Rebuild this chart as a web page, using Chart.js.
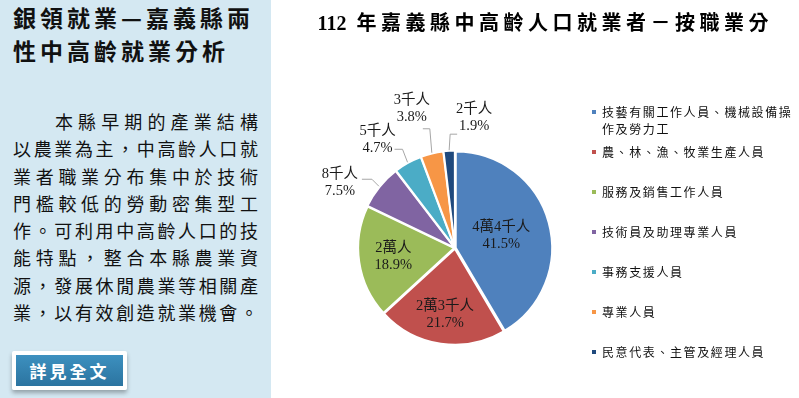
<!DOCTYPE html>
<html><head><meta charset="utf-8">
<script src="https://cdn.jsdelivr.net/npm/chart.js@4/dist/chart.umd.min.js"></script>
<style>
html,body{margin:0;padding:0;width:799px;height:398px;overflow:hidden;background:#fff;}
#panel{position:absolute;left:0;top:0;width:271px;height:398px;background:#d4e8f2;}
#ptitle{position:absolute;left:13px;top:1px;font:bold 23px "Noto Sans CJK TC";letter-spacing:4px;line-height:33px;color:#111;white-space:nowrap;}
#ptext{position:absolute;left:13px;top:108px;width:245px;font:18px "Noto Sans CJK TC";line-height:27.3px;color:#111;}
#ptext div{text-align:justify;text-align-last:justify;white-space:nowrap;}
#ptext div.first{padding-left:42px;}
#btn{position:absolute;left:12px;top:351px;width:107px;height:31px;border:4px solid #fff;background:linear-gradient(#3d90bf,#2b74a0);color:#fff;font:bold 17px "Noto Sans CJK TC";letter-spacing:3px;text-align:center;line-height:31px;box-shadow:0 3px 4px rgba(0,0,0,0.3);border-radius:2px;}
#wrap{position:absolute;left:271px;top:0;width:528px;height:398px;}
</style></head>
<body>
<div id="panel">
  <div id="ptitle">銀領就業—嘉義縣兩<br>性中高齡就業分析</div>
  <div id="ptext">
    <div class="first">本縣早期的產業結構</div>
    <div>以農業為主，中高齡人口就</div>
    <div>業者職業分布集中於技術</div>
    <div>門檻較低的勞動密集型工</div>
    <div>作。可利用中高齡人口的技</div>
    <div>能特點，整合本縣農業資</div>
    <div>源，發展休閒農業等相關產</div>
    <div>業，以有效創造就業機會。</div>
  </div>
  <div id="btn">詳見全文</div>
</div>
<div id="wrap"><canvas id="c" width="528" height="398"></canvas></div>
<script>
const titleYear = "112";
const titleText = "年嘉義縣中高齡人口就業者－按職業分";
const categories = ["技藝有關工作人員、機械設備操作及勞力工","農、林、漁、牧業生產人員","服務及銷售工作人員","技術員及助理專業人員","事務支援人員","專業人員","民意代表、主管及經理人員"];
const shares = [41.5, 21.7, 18.9, 7.5, 4.7, 3.8, 1.9];
const counts = ["4萬4千人","2萬3千人","2萬人","8千人","5千人","3千人","2千人"];
const colors = ["#4f81bd","#c0504d","#9bbb59","#8064a2","#4bacc6","#f79646","#1f497d"];

const decorPlugin = {
  id: 'decor',
  afterDraw(chart) {
    const ctx = chart.ctx;
    const meta = chart.getDatasetMeta(0);
    // title
    ctx.save();
    ctx.font = 'bold 20px "Liberation Serif","Noto Sans CJK TC"';
    ctx.fillStyle = '#000';
    ctx.textAlign = 'left';
    ctx.textBaseline = 'middle';
    ctx.letterSpacing = '0px';
    const w1 = ctx.measureText(titleYear).width;
    ctx.letterSpacing = '4.5px';
    const w2 = ctx.measureText(titleText).width - 4.5;
    const gap = 10;
    let x0 = chart.width / 2 + 8 - (w1 + gap + w2) / 2;
    ctx.letterSpacing = '0px';
    ctx.fillText(titleYear, x0, 25);
    ctx.letterSpacing = '4.5px';
    ctx.fillText(titleText, x0 + w1 + gap, 25);
    ctx.restore();

    // slice labels
    ctx.save();
    ctx.font = '14.5px "Liberation Serif","Noto Sans CJK TC"';
    ctx.fillStyle = '#1a1a1a';
    ctx.textAlign = 'center';
    ctx.textBaseline = 'middle';
    const inside = {0: 0.5, 1: 0.7, 2: 0.65};
    const outside = {
      3: {elbow: [-7, -7], end: [-17, -7], text: [-39, -4]},
      4: {elbow: [-5, -13], end: [-13, -13], text: [-30, -23]},
      5: {elbow: [-2, -24], end: [-9, -24], text: [-20, -44]},
      6: {elbow: [1, -16], end: [8, -16], text: [25, -32]}
    };
    meta.data.forEach((arc, i) => {
      const p = arc.getProps(['x', 'y', 'startAngle', 'endAngle', 'outerRadius'], true);
      const mid = (p.startAngle + p.endAngle) / 2;
      const cs = Math.cos(mid), sn = Math.sin(mid);
      const t1 = counts[i], t2 = shares[i].toFixed(1) + '%';
      if (inside[i] !== undefined) {
        const r = p.outerRadius * inside[i];
        const x = p.x + cs * r, y = p.y + sn * r;
        ctx.fillText(t1, x, y - 8.5);
        ctx.fillText(t2, x, y + 8.5);
      } else {
        const o = outside[i];
        const ex = p.x + cs * (p.outerRadius + 2), ey = p.y + sn * (p.outerRadius + 2);
        ctx.strokeStyle = '#a6a6a6';
        ctx.lineWidth = 1;
        ctx.beginPath();
        ctx.moveTo(ex, ey);
        ctx.lineTo(ex + o.elbow[0], ey + o.elbow[1]);
        ctx.lineTo(ex + o.end[0], ey + o.end[1]);
        ctx.stroke();
        const tx = ex + o.text[0], ty = ey + o.text[1];
        ctx.fillText(t1, tx, ty - 8.5);
        ctx.fillText(t2, tx, ty + 8.5);
      }
    });
    ctx.restore();

    // legend
    ctx.save();
    ctx.font = '12px "Noto Sans CJK TC"';
    ctx.letterSpacing = '1.6px';
    ctx.textAlign = 'left';
    ctx.textBaseline = 'middle';
    const mx = 323, tx = 331, maxW = chart.width - tx - 2;
    categories.forEach((name, i) => {
      const y = 112 + 40 * i;
      const lines = [];
      let cur = '';
      for (const ch of name) {
        if (ctx.measureText(cur + ch).width > maxW && cur) { lines.push(cur); cur = ch; }
        else cur += ch;
      }
      lines.push(cur);
      ctx.fillStyle = colors[i];
      ctx.fillRect(mx - 2, y - 2, 4, 4);
      ctx.fillStyle = '#111';
      lines.forEach((ln, k) => ctx.fillText(ln, tx, y + 17 * k));
    });
    ctx.restore();
  }
};

new Chart(document.getElementById('c'), {
  type: 'pie',
  data: {
    labels: categories,
    datasets: [{
      data: shares,
      backgroundColor: colors,
      borderColor: '#ffffff',
      borderWidth: 2,
      hoverBorderWidth: 2,
      offset: 3,
      hoverOffset: 0
    }]
  },
  options: {
    responsive: false,
    devicePixelRatio: 1,
    animation: false,
    events: [],
    layout: {padding: {left: 85.5, right: 245.5, top: 149.5, bottom: 51.5}},
    plugins: {legend: {display: false}, tooltip: {enabled: false}, title: {display: false}}
  },
  plugins: [decorPlugin]
});
</script>
</body></html>
